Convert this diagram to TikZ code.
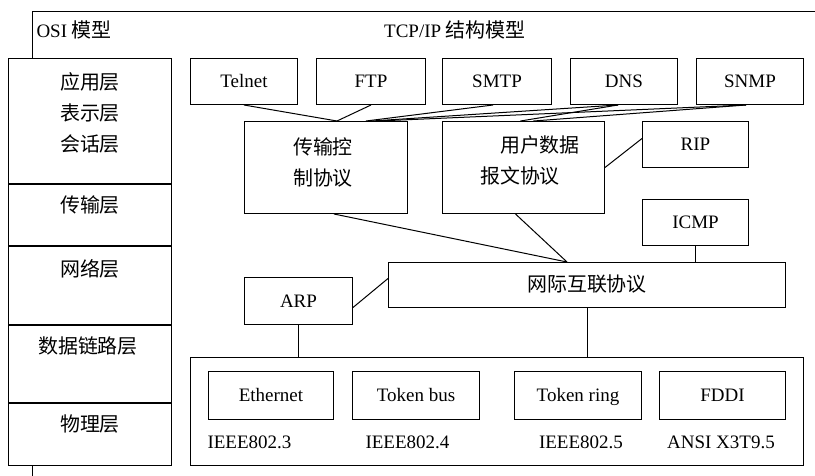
\documentclass[tikz,border=0pt]{standalone}
\usepackage{fontspec}
\setmainfont{Liberation Serif}
\newfontfamily\cjk[Scale=1.05]{Noto Sans CJK SC}

\begin{document}
\begin{tikzpicture}[x=1pt, y=-1pt, line width=1pt,
		every node/.style={font=\fontsize{19}{31}\selectfont, inner sep=0pt},
		zh/.style={font=\fontsize{19}{31}\selectfont\cjk, align=center},
		box/.style={draw, anchor=north west, text height=14pt, text depth=2pt},
		layer/.style={draw, fill=white, anchor=north west, minimum width=163pt}]
	\useasboundingbox (0,0) rectangle (815,476);
	\draw (32,476) -- (32,12) -- (815,12);
	\node[anchor=west] (osititle) at (36,30) {OSI {\cjk 模型}};
	\node (tcpiptitle) at (455,30) {TCP/IP {\cjk 结构模型}};

	\node[layer, minimum height=125pt] (app) at (8,58) {};
	\node[layer, minimum height=61pt] (trans) at (8,184) {};
	\node[layer, minimum height=78pt] (net) at (8,246) {};
	\node[layer, minimum height=77pt] (link) at (8,325) {};
	\node[layer, minimum height=62pt] (phys) at (8,403) {};
	\node[zh] (apptext) at (90,113) {应用层\\表示层\\会话层};
	\node[zh] (transtext) at (90,205) {传输层};
	\node[zh] (nettext) at (90,269) {网络层};
	\node[zh] (linktext) at (88,346) {数据链路层};
	\node[zh] (phystext) at (90,424) {物理层};

	\node[box, minimum width=107pt, minimum height=46pt] (telnet) at (190,58) {Telnet};
	\node[box, minimum width=109pt, minimum height=46pt] (ftp) at (316,58) {FTP};
	\node[box, minimum width=109pt, minimum height=46pt] (smtp) at (442,58) {SMTP};
	\node[box, minimum width=107pt, minimum height=46pt] (dns) at (570,58) {DNS};
	\node[box, minimum width=107pt, minimum height=46pt] (snmp) at (696,58) {SNMP};

	\node[box, minimum width=163pt, minimum height=92pt] (tcp) at (244,121) {};
	\node[zh] (tcptext) at (323,162) {传输控\\制协议};
	\node[box, minimum width=162pt, minimum height=92pt] (udp) at (442,121) {};
	\node[zh, align=left] (udptext) at (530,160.5) {\hspace{1em}用户数据\\报文协议};
	\node[box, minimum width=106pt, minimum height=46pt] (rip) at (642,121) {RIP};
	\node[box, minimum width=106pt, minimum height=46pt] (icmp) at (642,199) {ICMP};

	\node[box, minimum width=397pt, minimum height=45pt, font=\fontsize{19}{31}\selectfont\cjk] (ip) at (388,262) {网际互联协议};
	\node[box, minimum width=108pt, minimum height=47pt] (arp) at (244,277) {ARP};

	\node[box, minimum width=613pt, minimum height=108pt] (lan) at (190,357) {};
	\node[box, minimum width=125pt, minimum height=48pt] (eth) at (208,371) {Ethernet};
	\node[box, minimum width=127pt, minimum height=48pt] (tbus) at (352,371) {Token bus};
	\node[box, minimum width=127pt, minimum height=48pt] (tring) at (514,371) {Token ring};
	\node[box, minimum width=126pt, minimum height=48pt] (fddi) at (659,371) {FDDI};
	\node[anchor=west] (ieee3) at (207,442) {IEEE802.3};
	\node[anchor=west] (ieee4) at (365,442) {IEEE802.4};
	\node (ieee5) at (581,442) {IEEE802.5};
	\node (ansi) at (721,442) {ANSI X3T9.5};

	\draw (telnet.south) -- ([xshift=11pt]tcp.north);
	\draw (ftp.south) -- ([xshift=11pt]tcp.north);
	\draw ([xshift=-4pt]smtp.south) -- ([xshift=40pt]tcp.north);
	\draw ([xshift=-6pt]dns.south) -- ([xshift=46pt]tcp.north);
	\draw ([xshift=-4pt]snmp.south) -- ([xshift=52pt]tcp.north);
	\draw ([xshift=-6pt]dns.south) -- ([xshift=-3pt]udp.north);
	\draw ([xshift=-4pt]snmp.south) -- ([xshift=10pt]udp.north);
	\draw (udp.east) -- ([yshift=6pt]rip.west);
	\draw ([xshift=8pt]tcp.south) -- ([xshift=-20pt]ip.north);
	\draw ([xshift=-8pt]udp.south) -- ([xshift=-20pt]ip.north);
	\draw (icmp.south) -- (icmp.south |- ip.north);
	\draw ([yshift=-6.5pt]arp.east) -- ([yshift=6.5pt]ip.west);
	\draw (arp.south) -- (arp.south |- lan.north);
	\draw (ip.south) -- (ip.south |- lan.north);
\end{tikzpicture}
\end{document}
